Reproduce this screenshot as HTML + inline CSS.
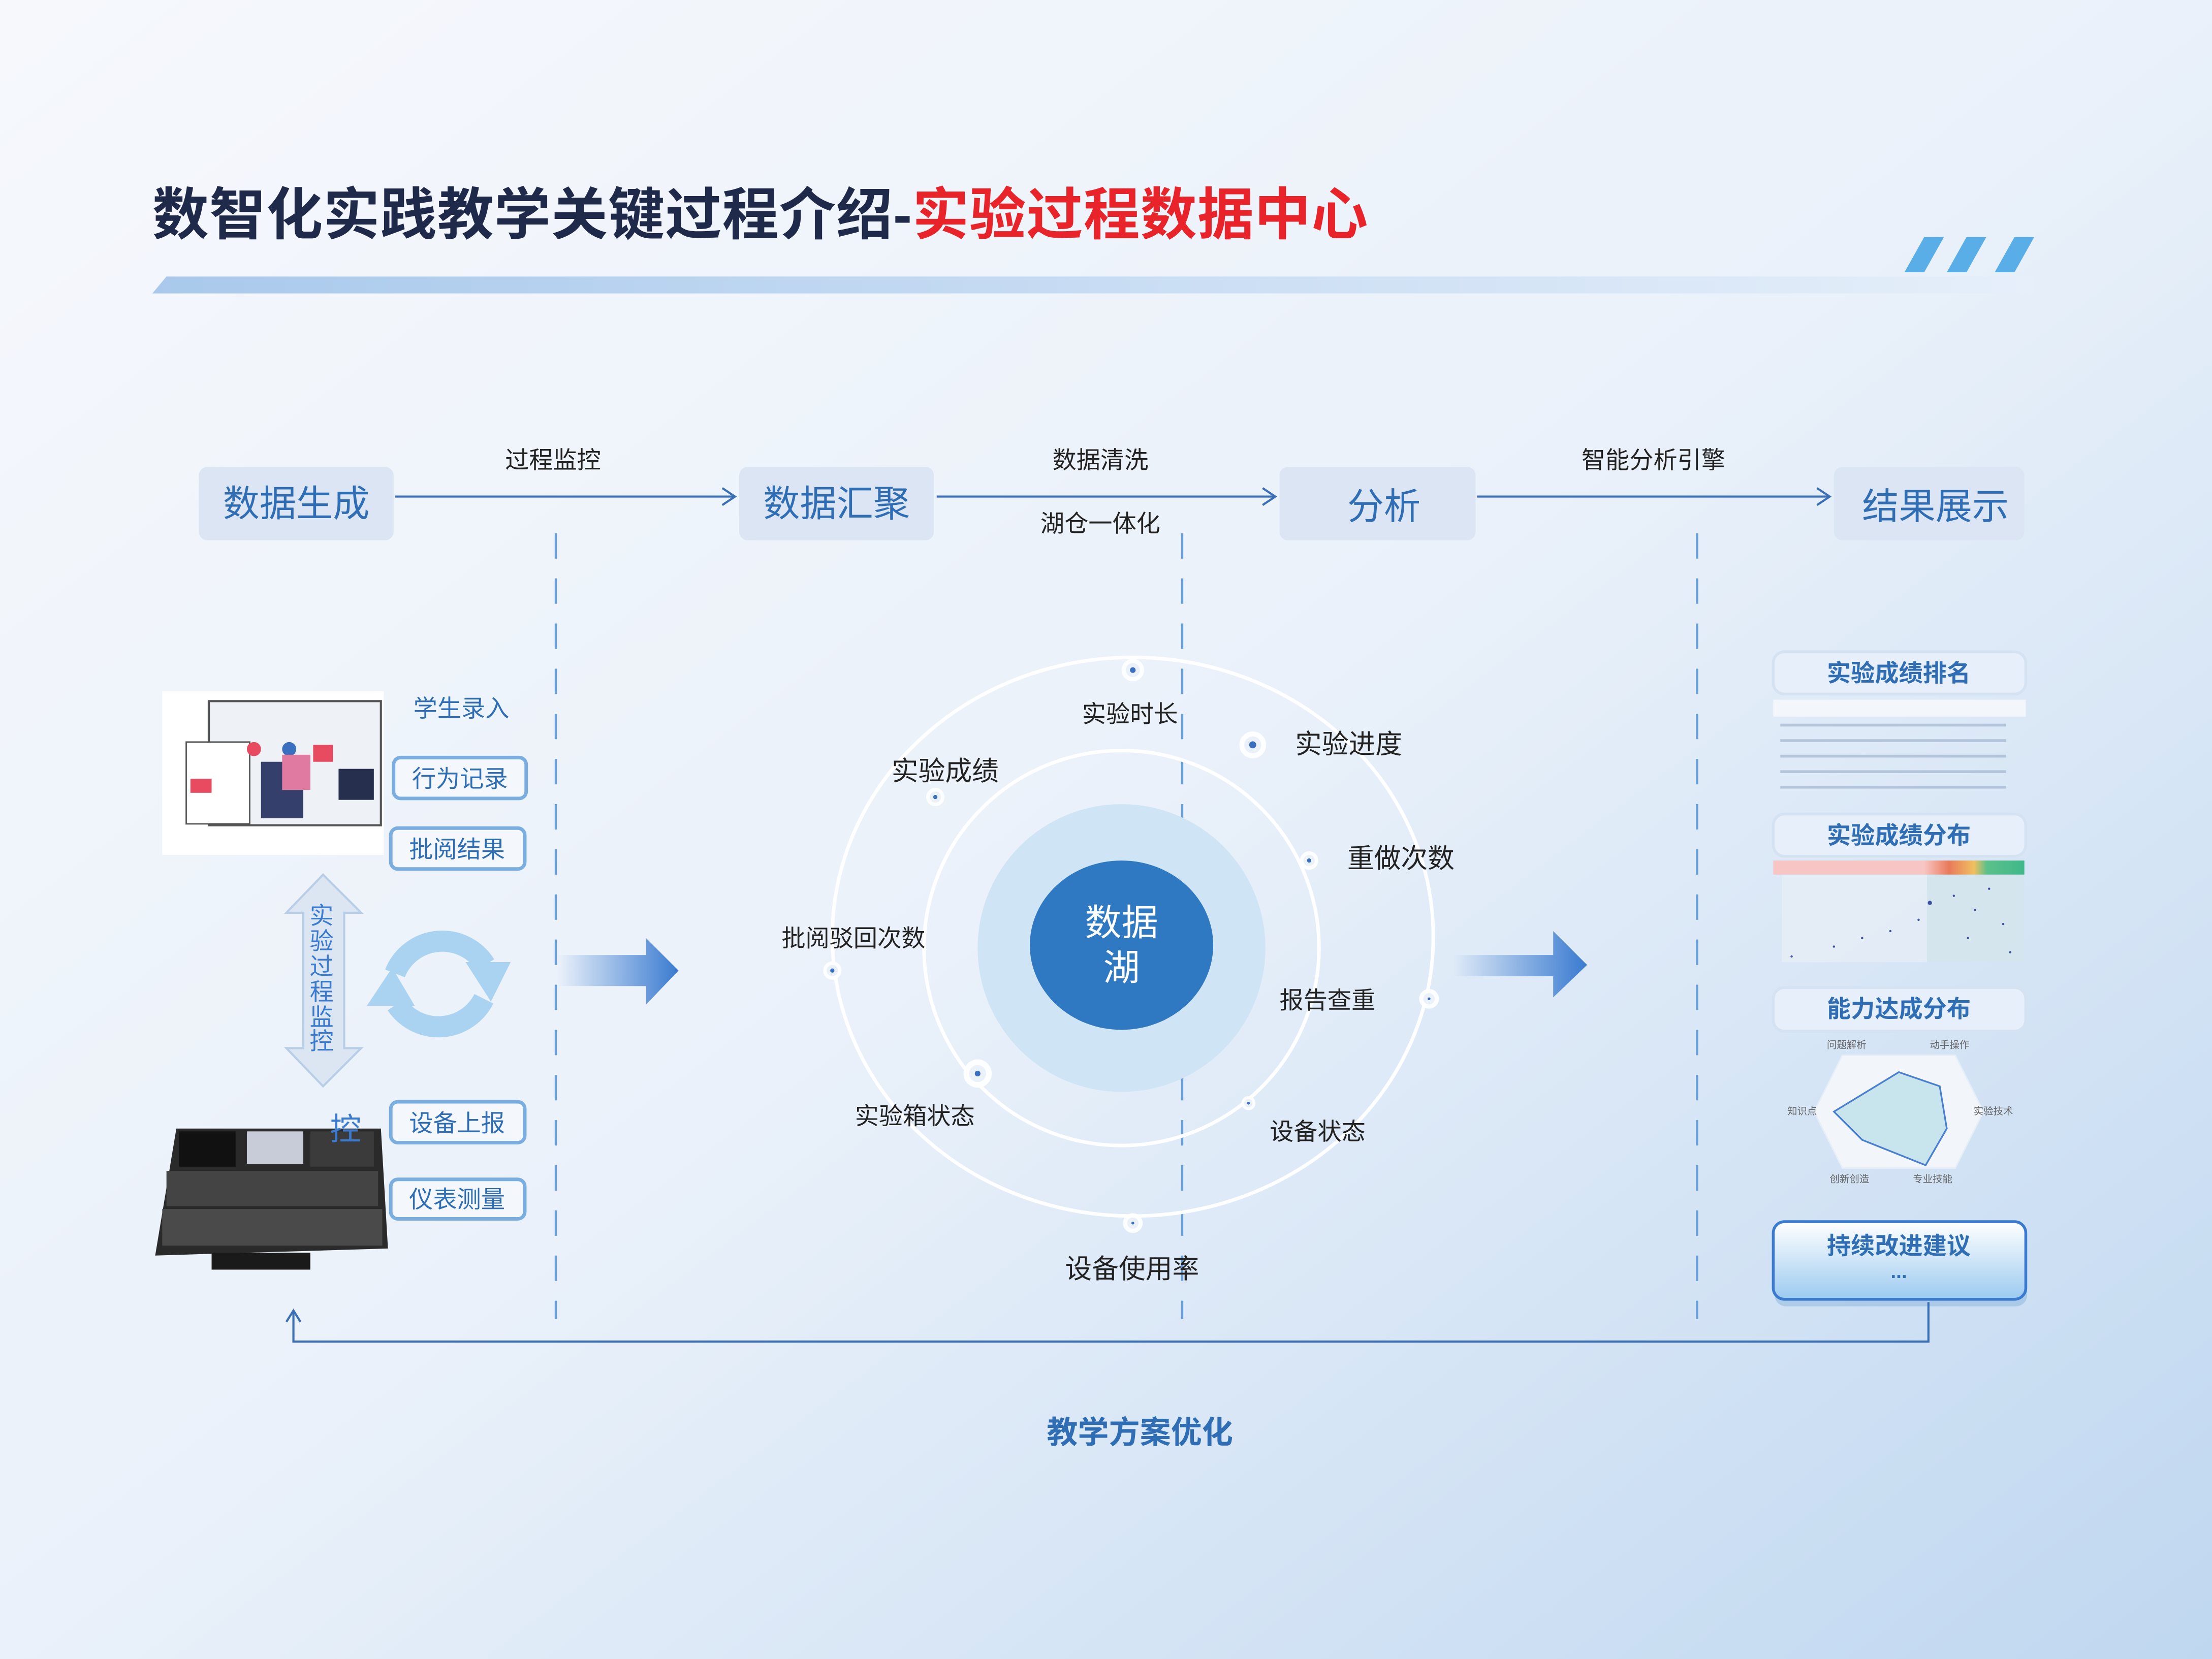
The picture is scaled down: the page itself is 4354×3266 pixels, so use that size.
<!DOCTYPE html>
<html><head><meta charset="utf-8"><style>
html,body{margin:0;padding:0;}
body{width:4354px;height:3266px;overflow:hidden;}
svg{display:block;}
text{font-family:"Liberation Sans","Noto Sans CJK SC",sans-serif;}
</style></head><body>
<svg width="4354" height="3266" viewBox="0 0 1568 1176" preserveAspectRatio="none" xmlns="http://www.w3.org/2000/svg">
<defs>
<linearGradient id="bg" x1="0" y1="0" x2="1" y2="1">
<stop offset="0" stop-color="#f6f8fc"/><stop offset="0.5" stop-color="#eaf1fa"/><stop offset="1" stop-color="#bfd7f0"/></linearGradient>
<linearGradient id="bar" x1="0" y1="0" x2="1" y2="0">
<stop offset="0" stop-color="#a9c9ec"/><stop offset="1" stop-color="#e6effa"/></linearGradient>
<linearGradient id="arr" x1="0" y1="0" x2="1" y2="0">
<stop offset="0" stop-color="#3a7bd0" stop-opacity="0"/><stop offset="1" stop-color="#3a7bd0"/></linearGradient>
<linearGradient id="btn" x1="0" y1="0" x2="0" y2="1">
<stop offset="0" stop-color="#ffffff"/><stop offset="1" stop-color="#9ccaf0"/></linearGradient>
<linearGradient id="scat" x1="0" y1="0" x2="1" y2="0">
<stop offset="0" stop-color="#f7c6c4"/><stop offset="0.6" stop-color="#f7c6c4"/><stop offset="0.7" stop-color="#e97a5a"/><stop offset="0.8" stop-color="#f0c060"/><stop offset="0.85" stop-color="#5cc08a"/><stop offset="1" stop-color="#3fb88a"/></linearGradient>
</defs>
<rect width="1568" height="1176" fill="url(#bg)"/>

<!-- title -->
<text x="108" y="166" font-size="40" font-weight="bold" fill="#1f2a4a" letter-spacing="0.4">数智化实践教学关键过程介绍-<tspan fill="#e8242a">实验过程数据中心</tspan></text>
<polygon points="118,196 1442,196 1442,208 108,208" fill="url(#bar)"/>
<g fill="#5aaee8">
<polygon points="1364,168 1378,168 1364,193 1350,193"/>
<polygon points="1394,168 1408,168 1394,193 1380,193"/>
<polygon points="1428,168 1442,168 1428,193 1414,193"/>
</g>

<!-- stage boxes -->
<g fill="#dce5f3">
<rect x="141" y="331" width="138" height="52" rx="6"/>
<rect x="524" y="331" width="138" height="52" rx="6"/>
<rect x="907" y="331" width="139" height="52" rx="6"/>
<rect x="1300" y="331" width="135" height="52" rx="6"/>
</g>
<g font-size="26" fill="#2f6db5" text-anchor="middle">
<text x="210" y="366">数据生成</text>
<text x="593" y="366">数据汇聚</text>
<text x="981" y="368">分析</text>
<text x="1372" y="368">结果展示</text>
</g>
<g stroke="#3a6fb5" stroke-width="1.5" fill="none">
<line x1="280" y1="352" x2="521" y2="352"/><polyline points="512,346 521,352 512,358"/>
<line x1="664" y1="352" x2="904" y2="352"/><polyline points="895,346 904,352 895,358"/>
<line x1="1047" y1="352" x2="1297" y2="352"/><polyline points="1288,346 1297,352 1288,358"/>
</g>
<g font-size="17" fill="#222" text-anchor="middle">
<text x="392" y="332">过程监控</text>
<text x="780" y="332">数据清洗</text>
<text x="780" y="377">湖仓一体化</text>
<text x="1172" y="332">智能分析引擎</text>
</g>

<!-- dashed verticals -->
<g stroke="#6a9fd8" stroke-width="1.6" stroke-dasharray="18,14">
<line x1="394" y1="378" x2="394" y2="935"/>
<line x1="838" y1="378" x2="838" y2="935"/>
<line x1="1203" y1="378" x2="1203" y2="935"/>
</g>

<!-- center -->
<ellipse cx="803" cy="664" rx="213" ry="198" fill="none" stroke="#ffffff" stroke-width="2.5"/>
<circle cx="795" cy="672" r="140" fill="none" stroke="#ffffff" stroke-width="2.5"/>
<circle cx="795" cy="672" r="102" fill="#cfe5f5"/>
<ellipse cx="795" cy="670" rx="65" ry="60" fill="#2f78c2"/>
<text x="795" y="663" font-size="26" fill="#fff" text-anchor="middle">数据</text>
<text x="795" y="695" font-size="26" fill="#fff" text-anchor="middle">湖</text>
<g fill="#3a6fc0" stroke="#ffffff" stroke-opacity="0.9">
<circle cx="803" cy="475" r="5" stroke-width="6"/>
<circle cx="888" cy="528" r="6" stroke-width="7"/>
<circle cx="928" cy="610" r="4" stroke-width="5"/>
<circle cx="663" cy="565" r="4" stroke-width="5"/>
<circle cx="590" cy="688" r="4" stroke-width="5"/>
<circle cx="693" cy="761" r="6" stroke-width="8"/>
<circle cx="1013" cy="708" r="4" stroke-width="6"/>
<circle cx="885" cy="782" r="3" stroke-width="4"/>
<circle cx="803" cy="867" r="4" stroke-width="6"/>
</g>
<g font-size="19" fill="#222">
<text x="767" y="512" font-size="17">实验时长</text>
<text x="918" y="534">实验进度</text>
<text x="632" y="553">实验成绩</text>
<text x="955" y="615">重做次数</text>
<text x="554" y="671" font-size="17">批阅驳回次数</text>
<text x="907" y="715" font-size="17">报告查重</text>
<text x="606" y="797" font-size="17">实验箱状态</text>
<text x="900" y="808" font-size="17">设备状态</text>
<text x="755" y="906">设备使用率</text>
</g>

<!-- big arrows -->
<polygon points="395,677 458,677 458,665 481,688 458,712 458,699 395,699" fill="url(#arr)"/>
<polygon points="1030,677 1101,677 1101,660 1125,684 1101,707 1101,692 1030,692" fill="url(#arr)"/>

<!-- left illustrations -->
<rect x="115" y="490" width="157" height="116" fill="#ffffff"/>
<rect x="148" y="497" width="122" height="88" fill="#eef1f6" stroke="#555" stroke-width="1.5"/>
<rect x="132" y="526" width="45" height="58" fill="#fff" stroke="#555"/>
<rect x="135" y="552" width="15" height="10" fill="#e84a5f"/>
<circle cx="180" cy="531" r="5" fill="#e84a5f"/><circle cx="205" cy="531" r="5" fill="#3a6fc0"/>
<rect x="222" y="528" width="14" height="12" fill="#e84a5f"/>
<rect x="185" y="540" width="30" height="40" fill="#34406b"/>
<rect x="200" y="535" width="20" height="25" fill="#e07aa0"/>
<rect x="240" y="545" width="25" height="22" fill="#26304e"/>
<g>
<polygon points="125,800 270,800 275,885 110,890" fill="#2a2a2a"/>
<rect x="127" y="802" width="40" height="25" fill="#111"/>
<rect x="175" y="802" width="40" height="23" fill="#c8ccd8"/>
<rect x="220" y="802" width="45" height="25" fill="#3b3b3b"/>
<rect x="118" y="830" width="150" height="25" fill="#444"/>
<rect x="115" y="857" width="156" height="26" fill="#4a4a4a"/>
<rect x="150" y="888" width="70" height="12" fill="#1a1a1a"/>
</g>
<text x="327" y="508" font-size="17" fill="#2f6db5" text-anchor="middle">学生录入</text>
<g fill="#f4f8fd" stroke="#7aaee0" stroke-width="2.5">
<rect x="279" y="537" width="94" height="29" rx="5"/>
<rect x="277" y="587" width="95" height="29" rx="5"/>
<rect x="277" y="781" width="95" height="29" rx="5"/>
<rect x="277" y="836" width="95" height="28" rx="5"/>
</g>
<g font-size="17" fill="#2f6db5" text-anchor="middle">
<text x="326" y="558">行为记录</text>
<text x="324" y="608">批阅结果</text>
<text x="324" y="802">设备上报</text>
<text x="324" y="856">仪表测量</text>
</g>
<text x="234" y="808" font-size="22" fill="#3a7bd0">控</text>

<polygon points="229,620 256,647 244,647 244,743 256,743 229,770 203,743 215,743 215,647 203,647" fill="#dce6f3" stroke="#b8cde6" stroke-width="1.5"/>
<g font-size="17" fill="#3a7bd0" text-anchor="middle">
<text x="228" y="655">实</text><text x="228" y="673">验</text><text x="228" y="691">过</text><text x="228" y="709">程</text><text x="228" y="727">监</text><text x="228" y="744">控</text>
</g>
<!-- cycle icon -->
<g fill="none" stroke="#a9d3f0" stroke-width="15">
<path d="M 280 690 A 36 36 0 0 1 344 684"/>
<path d="M 343 708 A 36 36 0 0 1 281 712"/>
</g>
<polygon points="330,682 362,682 348,710" fill="#a9d3f0"/>
<polygon points="260,713 294,713 278,686" fill="#a9d3f0"/>

<!-- right panels -->
<g fill="#e6effa" stroke="#d5e2f2" stroke-width="2">
<rect x="1257" y="462" width="179" height="30" rx="8"/>
<rect x="1257" y="577" width="179" height="30" rx="8"/>
<rect x="1257" y="700" width="179" height="31" rx="8"/>
</g>
<g font-size="17" fill="#2f6db5" text-anchor="middle" font-weight="bold">
<text x="1346" y="483">实验成绩排名</text>
<text x="1346" y="598">实验成绩分布</text>
<text x="1346" y="721">能力达成分布</text>
</g>
<rect x="1257" y="496" width="179" height="12" fill="#f3f6fb"/>
<g fill="#8aa0c0">
<rect x="1262" y="513" width="160" height="2" opacity="0.5"/>
<rect x="1262" y="524" width="160" height="2" opacity="0.5"/>
<rect x="1262" y="535" width="160" height="2" opacity="0.5"/>
<rect x="1262" y="546" width="160" height="2" opacity="0.5"/>
<rect x="1262" y="557" width="160" height="2" opacity="0.5"/>
</g>
<rect x="1257" y="610" width="178" height="10" fill="url(#scat)"/>
<rect x="1263" y="620" width="172" height="62" fill="#e8eef7" opacity="0.7"/>
<rect x="1366" y="620" width="69" height="62" fill="#cde3ea" opacity="0.7"/>
<g fill="#3a50a0">
<circle cx="1270" cy="678" r="0.8"/><circle cx="1300" cy="671" r="0.8"/><circle cx="1320" cy="665" r="0.8"/><circle cx="1340" cy="660" r="0.8"/><circle cx="1360" cy="652" r="0.8"/><circle cx="1368" cy="640" r="1.5"/><circle cx="1385" cy="635" r="0.8"/><circle cx="1400" cy="645" r="0.8"/><circle cx="1410" cy="630" r="0.8"/><circle cx="1420" cy="655" r="0.8"/><circle cx="1395" cy="665" r="0.8"/><circle cx="1425" cy="675" r="0.8"/>
</g>
<polygon points="1346,748 1386,748 1406,788 1386,828 1306,828 1286,788 1306,748" fill="#f2f6fb" stroke="#e6eef7"/>
<polygon points="1346,760 1375,770 1380,800 1365,826 1320,808 1300,788" fill="#c8e4ec" stroke="#4a7fd0" stroke-width="1.2"/>
<g font-size="7" fill="#666">
<text x="1295" y="743">问题解析</text><text x="1368" y="743">动手操作</text><text x="1267" y="790">知识点</text><text x="1399" y="790">实验技术</text><text x="1297" y="838">创新创造</text><text x="1356" y="838">专业技能</text>
</g>
<rect x="1257" y="868" width="179" height="55" rx="8" fill="#7aa9d6" opacity="0.4" transform="translate(1,3)"/>
<rect x="1257" y="866" width="179" height="55" rx="8" fill="url(#btn)" stroke="#3a7bd0" stroke-width="2"/>
<text x="1346" y="889" font-size="17" font-weight="bold" fill="#2f6db5" text-anchor="middle">持续改进建议</text>
<text x="1346" y="906" font-size="14" font-weight="bold" fill="#2f6db5" text-anchor="middle">...</text>

<!-- feedback -->
<polyline points="1367,923 1367,951 208,951 208,929" fill="none" stroke="#3a6fb5" stroke-width="1.5"/>
<polyline points="203,937 208,929 213,937" fill="none" stroke="#3a6fb5" stroke-width="1.5"/>
<text x="808" y="1023" font-size="22" font-weight="bold" fill="#2f6db5" text-anchor="middle">教学方案优化</text>
</svg>
</body></html>
